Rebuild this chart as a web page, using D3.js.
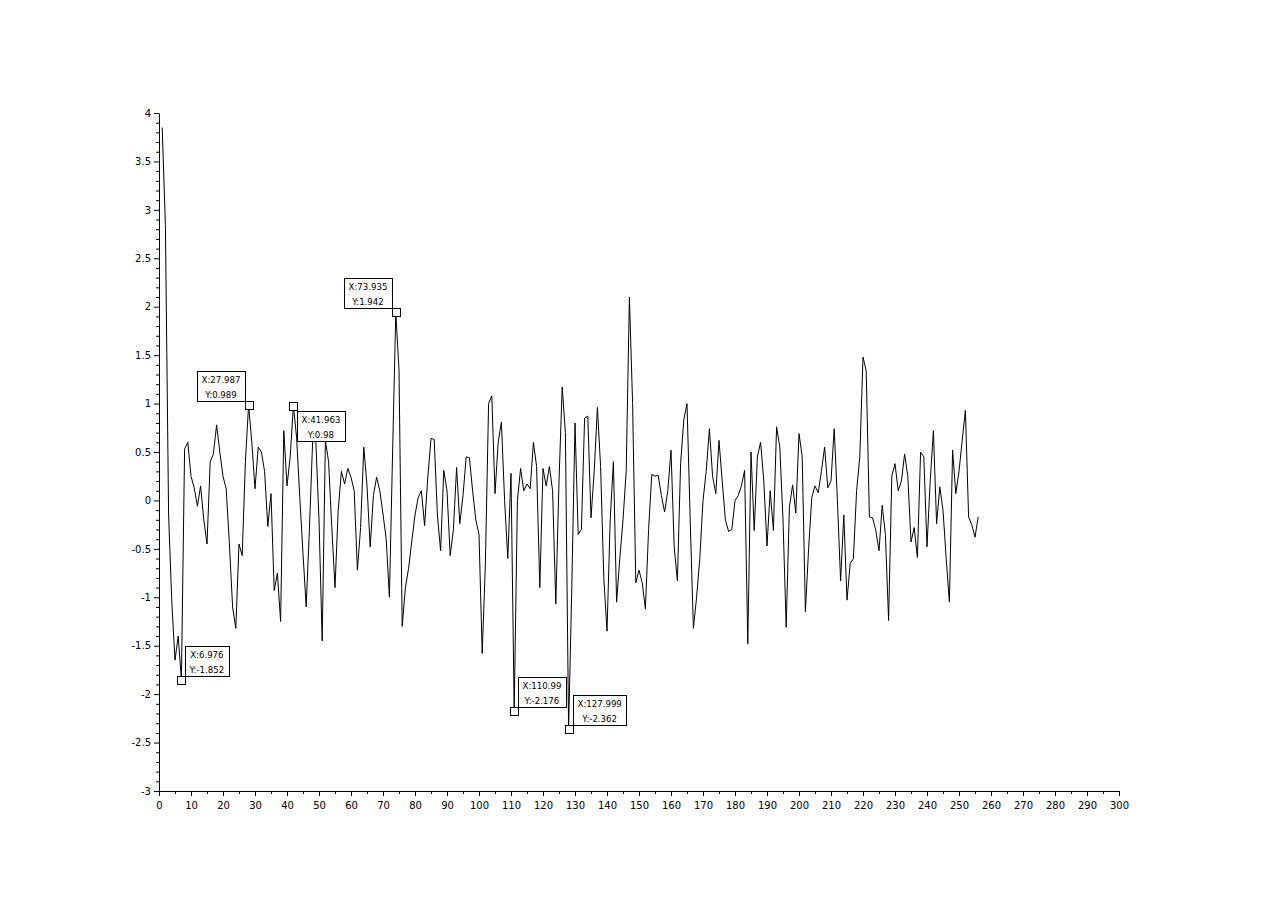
<!DOCTYPE html>
<html>
<head>
<meta charset="utf-8">
<script src="https://cdn.jsdelivr.net/npm/d3@7"></script>
<style>
  html, body { margin: 0; padding: 0; background: #fff; }
  svg { display: block; }
  text { font-family: "DejaVu Sans", sans-serif; }
</style>
</head>
<body>
<svg id="chart" width="1280" height="905"></svg>
<script>
// ---- data ----
const seriesY = [
  3.85, 2.85, -0.15, -1.05, -1.65, -1.4, -1.852, 0.53, 0.6, 0.25,
  0.13, -0.06, 0.15, -0.2, -0.45, 0.4, 0.48, 0.78, 0.5, 0.25,
  0.12, -0.45, -1.1, -1.32, -0.45, -0.57, 0.4, 0.989, 0.6, 0.12,
  0.55, 0.5, 0.3, -0.27, 0.07, -0.93, -0.75, -1.25, 0.72, 0.15,
  0.45, 0.98, 0.65, 0.03, -0.55, -1.1, -0.3, 0.6, 0.62, -0.2,
  -1.45, 0.62, 0.4, -0.28, -0.9, -0.1, 0.3, 0.17, 0.33, 0.24,
  0.1, -0.72, -0.28, 0.55, 0.15, -0.48, 0.05, 0.24, 0.1, -0.14,
  -0.4, -1.0, 0.5, 1.942, 1.35, -1.3, -0.9, -0.7, -0.42, -0.15,
  0.03, 0.1, -0.26, 0.24, 0.64, 0.63, -0.15, -0.52, 0.31, 0.1,
  -0.57, -0.3, 0.34, -0.24, 0.05, 0.45, 0.44, 0.1, -0.2, -0.35,
  -1.58, -0.65, 1.0, 1.08, 0.07, 0.6, 0.81, 0.0, -0.6, 0.28,
  -2.176, 0.0, 0.33, 0.1, 0.17, 0.12, 0.6, 0.35, -0.9, 0.33,
  0.15, 0.35, 0.1, -1.07, 0.2, 1.17, 0.7, -2.362, -0.9, 0.8,
  -0.35, -0.3, 0.85, 0.87, -0.18, 0.3, 0.96, 0.35, -0.8, -1.35,
  -0.2, 0.4, -1.05, -0.6, -0.2, 0.3, 2.1, 1.0, -0.85, -0.72,
  -0.85, -1.12, -0.3, 0.27, 0.25, 0.26, 0.05, -0.12, 0.1, 0.52,
  -0.48, -0.83, 0.38, 0.83, 1.0, -0.2, -1.32, -1.0, -0.6, 0.0,
  0.3, 0.74, 0.25, 0.07, 0.62, 0.2, -0.2, -0.32, -0.3, 0.0,
  0.05, 0.15, 0.31, -1.48, 0.5, -0.31, 0.45, 0.6, 0.2, -0.47,
  0.1, -0.31, 0.76, 0.55, -0.2, -1.31, -0.07, 0.16, -0.13, 0.69,
  0.45, -1.15, -0.5, 0.03, 0.15, 0.08, 0.3, 0.55, 0.13, 0.2,
  0.74, 0.0, -0.83, -0.15, -1.03, -0.65, -0.6, 0.1, 0.45, 1.48,
  1.34, -0.17, -0.18, -0.31, -0.52, -0.05, -0.35, -1.24, 0.25, 0.38,
  0.1, 0.2, 0.48, 0.25, -0.43, -0.28, -0.59, 0.5, 0.45, -0.48,
  0.2, 0.72, -0.24, 0.14, -0.1, -0.6, -1.05, 0.52, 0.07, 0.3,
  0.62, 0.93, -0.17, -0.25, -0.38, -0.17
];
const seriesX = d3.range(1, seriesY.length + 1); // sample index 1..256

const xTicks = d3.range(0, 301, 10);
const yTicks = [-3, -2.5, -2, -1.5, -1, -0.5, 0, 0.5, 1, 1.5, 2, 2.5, 3, 3.5, 4];

const tipX = [6.976, 27.987, 41.963, 73.935, 110.99, 127.999];
const tipY = [-1.852, 0.989, 0.98, 1.942, -2.176, -2.362];
const tipLabelX = ["X:6.976", "X:27.987", "X:41.963", "X:73.935", "X:110.99", "X:127.999"];
const tipLabelY = ["Y:-1.852", "Y:0.989", "Y:0.98", "Y:1.942", "Y:-2.176", "Y:-2.362"];
const tipPlacement = ["ur", "ul", "lr", "ul", "ur", "ur"];

// ---- chart ----
const svg = d3.select("#chart");
const x = d3.scaleLinear().domain([0, 300]).range([159, 1119]);
const y = d3.scaleLinear().domain([-3, 4]).range([791, 113]);

// x axis
const xAxis = d3.axisBottom(x).tickValues(xTicks).tickSize(5).tickSizeOuter(0)
  .tickFormat(d3.format("d"));
const gx = svg.append("g").attr("transform", "translate(0,791)").call(xAxis);
gx.select(".domain").attr("stroke", "#000");
gx.selectAll("text").attr("font-size", 10).attr("fill", "#000").attr("dy", "0.95em")
  .attr("font-family", "DejaVu Sans, sans-serif");
const xMinor = d3.axisBottom(x).tickValues(d3.range(5, 300, 10)).tickSize(3).tickFormat("");
svg.append("g").attr("transform", "translate(0,791)").call(xMinor).select(".domain").remove();

// y axis
const yAxis = d3.axisLeft(y).tickValues(yTicks).tickSize(5).tickSizeOuter(0)
  .tickFormat(d => String(d));
const gy = svg.append("g").attr("transform", "translate(159,0)").call(yAxis);
gy.select(".domain").attr("stroke", "#000");
gy.selectAll("text").attr("font-size", 10).attr("fill", "#000")
  .attr("font-family", "DejaVu Sans, sans-serif");
const yMinorVals = d3.range(-30, 41).map(v => v / 10).filter(v => Math.round(v * 10) % 5 !== 0);
const yMinor = d3.axisLeft(y).tickValues(yMinorVals).tickSize(3).tickFormat("");
svg.append("g").attr("transform", "translate(159,0)").call(yMinor).select(".domain").remove();

// line
const line = d3.line().x((d, i) => x(seriesX[i])).y(d => y(d));
svg.append("path").datum(seriesY)
  .attr("fill", "none").attr("stroke", "#000").attr("stroke-width", 1)
  .attr("d", line);

// datatips
const tips = svg.append("g");
tipX.forEach((tx, k) => {
  const sx = x(tx), sy = y(tipY[k]);
  const g = tips.append("g");
  const rect = g.append("rect").attr("fill", "#fff").attr("stroke", "#000").attr("stroke-width", 1);
  const t1 = g.append("text").attr("font-size", 8.6).attr("text-anchor", "middle").text(tipLabelX[k]);
  const t2 = g.append("text").attr("font-size", 8.6).attr("text-anchor", "middle").text(tipLabelY[k]);
  const w = Math.max(t1.node().getComputedTextLength(), t2.node().getComputedTextLength()) + 9;
  const h = 30;
  const p = tipPlacement[k];
  const left = p.endsWith("r") ? sx + 4 : sx - 4 - w;
  const top = p.startsWith("u") ? sy - 4 - h : sy + 5;
  rect.attr("x", Math.round(left) + 0.5).attr("y", Math.round(top) + 0.5).attr("width", Math.round(w)).attr("height", h);
  t1.attr("x", Math.round(left) + w / 2).attr("y", Math.round(top) + 12);
  t2.attr("x", Math.round(left) + w / 2).attr("y", Math.round(top) + 27);
  tips.append("rect")
    .attr("x", Math.round(sx - 4) + 0.5).attr("y", Math.round(sy - 4) + 0.5)
    .attr("width", 8).attr("height", 8)
    .attr("fill", "#fff").attr("stroke", "#000").attr("stroke-width", 1);
});
</script>
</body>
</html>
